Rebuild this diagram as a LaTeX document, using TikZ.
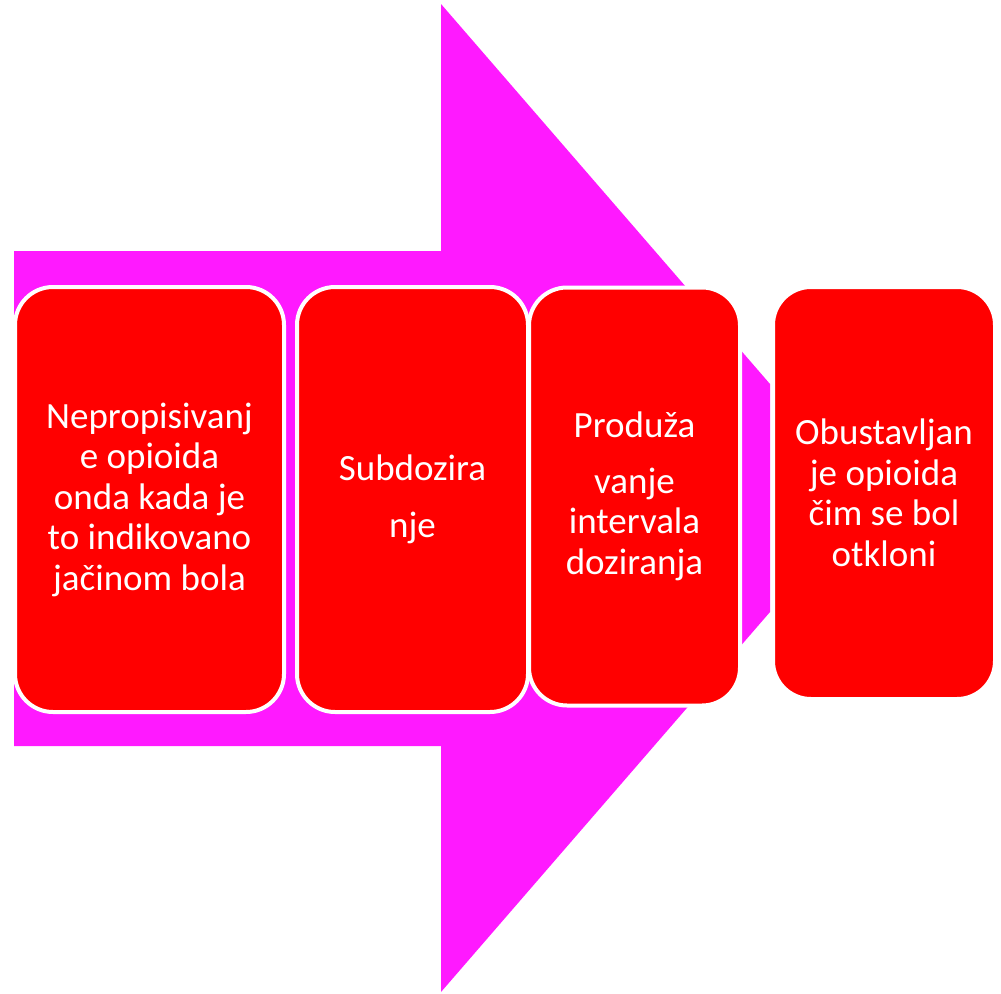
\documentclass[tikz,border=0pt]{standalone}
\usepackage{fontspec}
\setmainfont{Carlito}
\definecolor{arrowmag}{RGB}{255,25,255}
\definecolor{boxred}{RGB}{255,0,0}
\tikzset{
  stagebox/.style={draw=white, line width=4pt, fill=boxred, rounded corners=38pt,
    text=white, align=center, inner sep=0pt,
    font=\fontsize{37}{40.5}\selectfont},
}
\begin{document}
\begin{tikzpicture}[x=1pt,y=-1pt]
\useasboundingbox (0,0) rectangle (1001,993);
% big arrow
\fill[arrowmag] (14,251) -- (441,251) -- (441,4) -- (770,384) -- (770,612)
  -- (441,992) -- (441,746) -- (14,746) -- cycle;
% stage boxes
\node[stagebox, minimum width=269pt, minimum height=425pt] (b1) at (149.5,499.5)
  {Nepropisivanj\\e opioida\\onda kada je\\to indikovano\\jačinom bola};
\node[stagebox, minimum width=231pt, minimum height=425pt] (b2) at (412.5,499.5)
  {Subdozira\\[17pt]nje};
\node[stagebox, minimum width=211pt, minimum height=418pt] (b3) at (634.5,496.5)
  {Produža\\[15pt]vanje\\intervala\\doziranja};
\node[stagebox, minimum width=222pt, minimum height=412pt] (b4) at (884,493)
  {Obustavljan\\je opioida\\čim se bol\\otkloni};
\end{tikzpicture}
\end{document}
